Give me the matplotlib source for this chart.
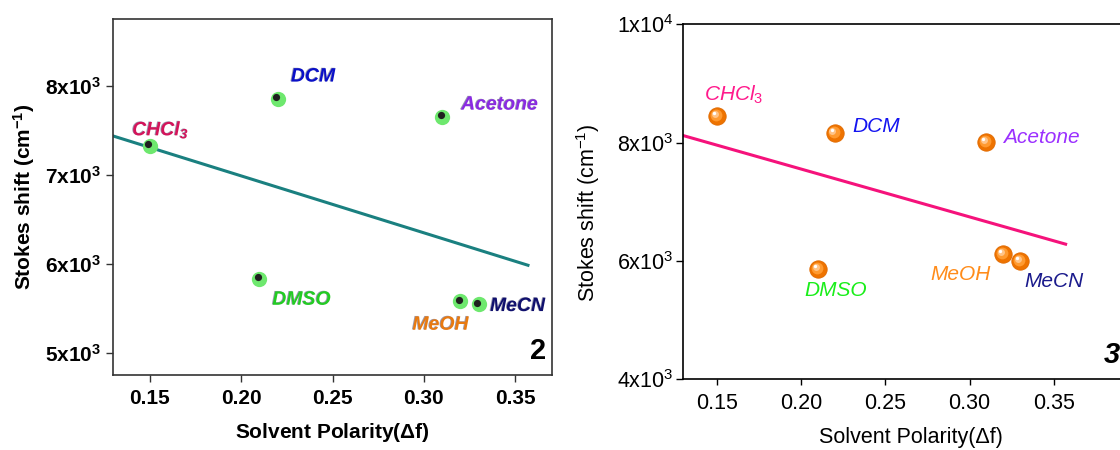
import matplotlib
matplotlib.use("Agg")
import matplotlib.pyplot as plt
import matplotlib.patheffects as pe
from matplotlib.transforms import offset_copy

plt.rcParams['font.family'] = ['Liberation Sans', 'DejaVu Sans']
plt.rcParams['mathtext.fontset'] = 'custom'
plt.rcParams['mathtext.rm'] = 'Liberation Sans'
plt.rcParams['mathtext.it'] = 'Liberation Sans:italic'
plt.rcParams['mathtext.bf'] = 'Liberation Sans:bold'
plt.rcParams['mathtext.bfit'] = 'Liberation Sans:italic:bold'

# data
solvents = ['CHCl3', 'DCM', 'Acetone', 'DMSO', 'MeOH', 'MeCN']
polarity = [0.15, 0.22, 0.31, 0.21, 0.32, 0.33]
shift_2 = [7330, 7854, 7653, 5832, 5581, 5544]
shift_3 = [8443, 8159, 8006, 5858, 6114, 6000]

# linear fit ends, as drawn
fit_x = [0.13, 0.357]
fit_2 = [7437, 5984]
fit_3 = [8119, 6284]

xticks = [0.15, 0.20, 0.25, 0.30, 0.35]
yticks_2 = [5000, 6000, 7000, 8000]
ylabels_2 = [r'$\mathbf{5x10^3}$', r'$\mathbf{6x10^3}$', r'$\mathbf{7x10^3}$', r'$\mathbf{8x10^3}$']
yticks_3 = [4000, 6000, 8000, 10000]
ylabels_3 = [r'$\mathrm{4x10^3}$', r'$\mathrm{6x10^3}$', r'$\mathrm{8x10^3}$', r'$\mathrm{1x10^4}$']

# label text, colour and position per solvent
names_2 = [r'$\mathbfit{CHCl_3}$', r'$\mathbfit{DCM}$', r'$\mathbfit{Acetone}$',
           r'$\mathbfit{DMSO}$', r'$\mathbfit{MeOH}$', r'$\mathbfit{MeCN}$']
names_3 = [r'$\mathit{CHCl_3}$', 'DCM', 'Acetone', 'DMSO', 'MeOH', 'MeCN']
colors_2 = ['#d4145a', '#0a10c8', '#8a2be2', '#22cc22', '#e87a10', '#10106e']
colors_3 = ['#ff1a8c', '#1414f0', '#9b30ff', '#1aee1a', '#ff8c1a', '#1a1a8c']
lab_x2 = [0.156, 0.240, 0.342, 0.2335, 0.3098, 0.352]
lab_y2 = [7500, 8100, 7784, 5590, 5309, 5519]
lab_x3 = [0.160, 0.2445, 0.3428, 0.2205, 0.2948, 0.350]
lab_y3 = [8800, 8273, 8085, 5506, 5767, 5653]

fig = plt.figure(figsize=(11.2, 4.5), dpi=100)

# ---- panel 2 ----
ax1 = fig.add_axes([0.1012, 0.1667, 0.3914, 0.7904])
ax1.plot(fit_x, fit_2, color='#1a8080', lw=2.2, zorder=2)
ax1.plot(polarity, shift_2, 'o', color='#6ee86e', ms=11, mec='none', zorder=3)
dark = offset_copy(ax1.transData, fig=fig, x=-1.5, y=1.5, units='dots')
ax1.plot(polarity, shift_2, 'o', color='#202020', ms=5.2, mec='none', zorder=4, transform=dark)
for i in range(len(solvents)):
    ax1.text(lab_x2[i], lab_y2[i], names_2[i], color=colors_2[i], fontsize=14,
             ha='center', va='center', zorder=5,
             path_effects=[pe.SimplePatchShadow(offset=(-0.6, 0.3), shadow_rgbFace='#202050', alpha=0.45),
                           pe.Normal()])
ax1.text(0.3628, 5022, '2', fontsize=21, fontweight='bold', ha='center', va='center')

ax1.set_xlim(0.13, 0.37)
ax1.set_ylim(4750, 8750)
ax1.set_xticks(xticks)
ax1.set_xticklabels(['%.2f' % v for v in xticks], fontweight='bold', fontsize=15)
ax1.set_yticks(yticks_2)
ax1.set_yticklabels(ylabels_2, fontsize=15)
ax1.tick_params(direction='out', length=5, width=1, color='#333333', pad=4)
ax1.tick_params(axis='x', pad=5)
for s in ax1.spines.values():
    s.set_color('#333333')
    s.set_linewidth(1.2)
ax1.set_xlabel(r'Solvent Polarity($\mathbf{\Delta}$f)', fontsize=15, fontweight='bold')
ax1.set_ylabel(r'Stokes shift (cm$^{\mathbf{-1}}$)', fontsize=15, fontweight='bold')
ax1.xaxis.set_label_coords(0.5, -0.129)
ax1.yaxis.set_label_coords(-0.174, 0.5)

# ---- panel 3 (right edge runs past the figure) ----
ax2 = fig.add_axes([0.6101, 0.1571, 0.406, 0.7889])
ax2.plot(fit_x, fit_3, color='#f5127b', lw=2.2, zorder=2)
ax2.plot(polarity, shift_3, 'o', color='#ee7300', ms=12.5, mec='#e06a00', mew=0.6, zorder=3)
shine = [('#ff9a30', 8.5, -1.0), ('#ffc488', 5.0, -2.4), ('#ffffff', 2.4, -3.0)]
for c, ms, off in shine:
    tr = offset_copy(ax2.transData, fig=fig, x=off, y=-off, units='dots')
    ax2.plot(polarity, shift_3, 'o', color=c, ms=ms, mec='none', zorder=4, transform=tr)
for i in range(len(solvents)):
    ax2.text(lab_x3[i], lab_y3[i], names_3[i], color=colors_3[i], fontsize=15,
             style='italic', ha='center', va='center', zorder=5)
ax2.text(0.3846, 4409, '3', fontsize=21, fontweight='bold', style='italic', ha='center', va='center')

ax2.set_xlim(0.13, 0.40)
ax2.set_ylim(4000, 10000)
ax2.set_xticks(xticks)
ax2.set_xticklabels(['%.2f' % v for v in xticks], fontsize=15.5)
ax2.set_yticks(yticks_3)
ax2.set_yticklabels(ylabels_3, fontsize=15.5)
ax2.tick_params(direction='out', length=5, width=1, color='black', pad=2)
ax2.tick_params(axis='x', length=4, pad=6)
for s in ax2.spines.values():
    s.set_linewidth(1.2)
ax2.set_xlabel('Solvent Polarity(Δf)', fontsize=15.5)
ax2.set_ylabel('Stokes shift (cm$^{-1}$)', fontsize=15.5)
ax2.xaxis.set_label_coords(0.5, -0.134)
ax2.yaxis.set_label_coords(-0.178, 0.47)

fig.savefig('out.png', dpi=100)
